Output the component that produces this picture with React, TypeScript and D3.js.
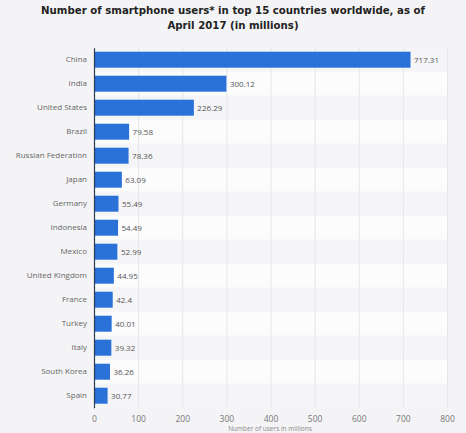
import { useEffect, useRef } from 'react';
import * as d3 from 'd3';

const countries = [
  'China', 'India', 'United States', 'Brazil', 'Russian Federation', 'Japan', 'Germany',
  'Indonesia', 'Mexico', 'United Kingdom', 'France', 'Turkey', 'Italy', 'South Korea', 'Spain',
];
const users = [717.31, 300.12, 226.29, 79.58, 78.36, 63.09, 55.49, 54.49, 52.99, 44.95, 42.4, 40.01, 39.32, 36.26, 30.77];
const valueLabels = ['717.31', '300.12', '226.29', '79.58', '78.36', '63.09', '55.49', '54.49', '52.99', '44.95', '42.4', '40.01', '39.32', '36.26', '30.77'];
const xTicks = [0, 100, 200, 300, 400, 500, 600, 700, 800];
const titleLines = ['Number of smartphone users* in top 15 countries worldwide, as of', 'April 2017 (in millions)'];

const W = 466;
const H = 433;
const FONT = '"Open Sans", "DejaVu Sans", sans-serif';

export default function App() {
  const svgRef = useRef<SVGSVGElement>(null);

  useEffect(() => {
    if (!svgRef.current) return;
    const svg = d3.select(svgRef.current);
    svg.selectAll('*').remove();

    const x = d3.scaleLinear().domain([0, 800]).range([94, 447]);
    const y = d3.scaleBand<string>().domain(countries).range([47.7, 407.7]).paddingInner(1 / 3).paddingOuter(1 / 6);

    // tło
    svg.append('rect').attr('width', W).attr('height', H).attr('fill', '#f4f4f6');

    // pasy wierszy
    svg.append('g')
      .selectAll('rect')
      .data(countries)
      .join('rect')
      .attr('x', x(0))
      .attr('y', (d) => y(d)! - y.step() * y.paddingInner() / 2)
      .attr('width', x(800) - x(0))
      .attr('height', y.step())
      .attr('fill', (d, i) => (i % 2 === 0 ? '#f5f5f7' : '#fcfcfd'));

    // siatka
    svg.append('g')
      .attr('transform', `translate(0,${y.range()[1]})`)
      .call(d3.axisBottom(x).tickValues(xTicks.slice(1)).tickSize(-(y.range()[1] - y.range()[0])).tickFormat(() => ''))
      .call((g) => g.select('.domain').remove())
      .call((g) => g.selectAll('line').attr('stroke', '#e6e6ea').attr('stroke-width', 1));

    // słupki
    svg.append('g')
      .selectAll('rect')
      .data(users)
      .join('rect')
      .attr('x', x(0))
      .attr('y', (d, i) => y(countries[i])!)
      .attr('width', (d) => x(d) - x(0))
      .attr('height', y.bandwidth())
      .attr('fill', '#2a72d8');

    // wartości
    svg.append('g')
      .selectAll('text')
      .data(users)
      .join('text')
      .attr('x', (d) => x(d) + 3.5)
      .attr('y', (d, i) => y(countries[i])! + y.bandwidth() / 2)
      .attr('dy', '0.35em')
      .style('font-family', FONT)
      .style('font-size', '8px')
      .style('fill', '#555')
      .text((d, i) => valueLabels[i]);

    // oś Y
    svg.append('g')
      .attr('transform', `translate(${x(0)},0)`)
      .call(d3.axisLeft(y).tickSize(0).tickPadding(7))
      .call((g) => g.select('.domain').attr('stroke', '#2b3a55').attr('stroke-width', 1.2))
      .call((g) => g.selectAll('text').style('font-family', FONT).style('font-size', '8px').style('fill', '#666'));

    // oś X
    svg.append('g')
      .attr('transform', `translate(0,${y.range()[1]})`)
      .call(d3.axisBottom(x).tickValues(xTicks).tickSize(0).tickPadding(8))
      .call((g) => g.select('.domain').remove())
      .call((g) => g.selectAll('text').style('font-family', FONT).style('font-size', '8.5px').style('fill', '#777'));

    svg.append('text')
      .attr('x', 270)
      .attr('y', 431)
      .attr('text-anchor', 'middle')
      .style('font-family', FONT)
      .style('font-size', '6.5px')
      .style('fill', '#888')
      .text('Number of users in millions');

    // tytuł
    svg.append('g')
      .selectAll('text')
      .data(titleLines)
      .join('text')
      .attr('x', 233)
      .attr('y', (d, i) => 14 + i * 15)
      .attr('text-anchor', 'middle')
      .style('font-family', 'DejaVu Sans, sans-serif')
      .style('font-weight', 'bold')
      .style('font-size', '10.2px')
      .style('fill', '#222')
      .text((d) => d);
  }, []);

  return (
    <div style={{ position: 'absolute', left: 0, top: 0 }}>
      <svg ref={svgRef} width={W} height={H} style={{ display: 'block' }} />
    </div>
  );
}
